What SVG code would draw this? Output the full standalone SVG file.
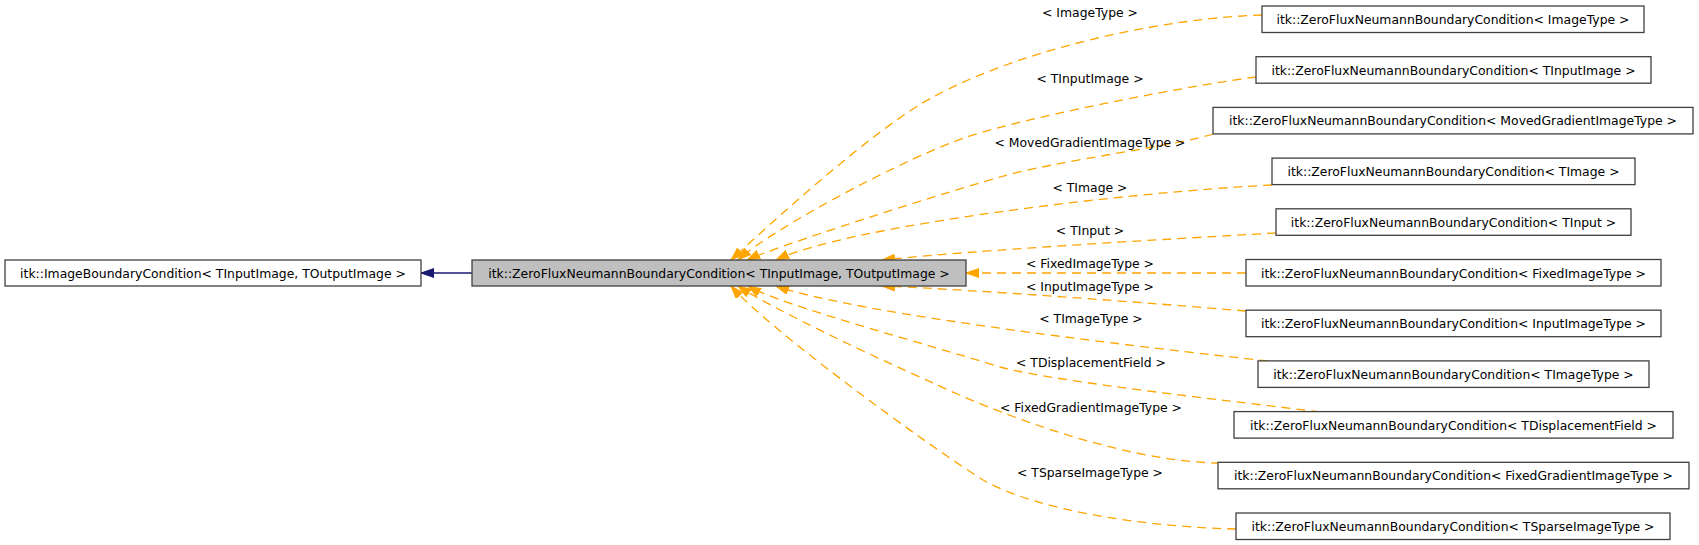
<svg xmlns="http://www.w3.org/2000/svg" width="1699" height="545" viewBox="0 0 1699 545">
<style>
.node rect{fill:#ffffff;stroke:#404040;stroke-width:1.3}
.node.main rect{fill:#bfbfbf}
text{font-family:"DejaVu Sans","Liberation Sans",sans-serif;font-size:12.4px;fill:#000000}
.nl{text-anchor:middle}
.el{text-anchor:middle}
.e{fill:none;stroke:#ffa500;stroke-width:1.3;stroke-dasharray:9,6;marker-end:url(#ao)}
.b{fill:none;stroke:#191970;stroke-width:1.3;marker-end:url(#an)}
</style>
<defs>
<marker id="ao" markerUnits="userSpaceOnUse" markerWidth="16" markerHeight="12" refX="13" refY="4.5" orient="auto" viewBox="0 0 16 12">
<path d="M0,0 L13,4.5 L0,9 Z" fill="#ffa500" stroke="#ffa500" stroke-width="1"/>
</marker>
<marker id="an" markerUnits="userSpaceOnUse" markerWidth="16" markerHeight="12" refX="13" refY="4.5" orient="auto" viewBox="0 0 16 12">
<path d="M0,0 L13,4.5 L0,9 Z" fill="#191970" stroke="#191970" stroke-width="1"/>
</marker>
</defs>
<rect width="1699" height="545" fill="#ffffff"/>
<g id="connectors">
<path class="b" d="M472,273 L421,273"/>
<path class="e" d="M1262,15 C1170,18 1030,45 933,97 C873,129 767,227 731,260"/>
<path class="e" d="M1256,77 C1200,84 1033,115 967,137 C907,157 773,228 738,260"/>
<path class="e" d="M1213,134 C1180,145 1050,162 1000,177 C930,197 775,247 747,260"/>
<path class="e" d="M1272,185 C1130,192 850,225 776,260"/>
<path class="e" d="M1276,233 C1150,240 980,250 882,260"/>
<path class="e" d="M1246,273 L966,273"/>
<path class="e" d="M1246,311 C1150,303 980,290 882,286"/>
<path class="e" d="M1268,361 C1150,348 860,315 776,286"/>
<path class="e" d="M1320,412 C1250,403 1055,382 1000,367 C930,345 780,305 748,286"/>
<path class="e" d="M1220,463 C1120,462 990,410 933,383 C870,355 775,310 738,286"/>
<path class="e" d="M1236,529 C1150,527 1040,512 983,480 C920,440 770,330 731,286"/>
<text class="el" x="1090" y="16.7">&lt; ImageType &gt;</text>
<text class="el" x="1090" y="82.7">&lt; TInputImage &gt;</text>
<text class="el" x="1090" y="146.5">&lt; MovedGradientImageType &gt;</text>
<text class="el" x="1090" y="191.7">&lt; TImage &gt;</text>
<text class="el" x="1090" y="235">&lt; TInput &gt;</text>
<text class="el" x="1090" y="268.3">&lt; FixedImageType &gt;</text>
<text class="el" x="1090" y="291">&lt; InputImageType &gt;</text>
<text class="el" x="1091" y="323.3">&lt; TImageType &gt;</text>
<text class="el" x="1091" y="367.3">&lt; TDisplacementField &gt;</text>
<text class="el" x="1091" y="412.3">&lt; FixedGradientImageType &gt;</text>
<text class="el" x="1090" y="476.7">&lt; TSparseImageType &gt;</text>
</g>
<g id="base" class="node"><rect x="5" y="260" width="416" height="26"/><text class="nl" x="213" y="277.5">itk::ImageBoundaryCondition&lt; TInputImage, TOutputImage &gt;</text></g>
<g id="main" class="node main"><rect x="472" y="260" width="494" height="26"/><text class="nl" x="719" y="277.5">itk::ZeroFluxNeumannBoundaryCondition&lt; TInputImage, TOutputImage &gt;</text></g>
<g id="n1" class="node"><rect x="1262" y="6" width="382" height="26.5"/><text class="nl" x="1453" y="24">itk::ZeroFluxNeumannBoundaryCondition&lt; ImageType &gt;</text></g>
<g id="n2" class="node"><rect x="1256" y="56.7" width="395" height="26.5"/><text class="nl" x="1453.5" y="74.7">itk::ZeroFluxNeumannBoundaryCondition&lt; TInputImage &gt;</text></g>
<g id="n3" class="node"><rect x="1213" y="107.4" width="480" height="26.5"/><text class="nl" x="1453" y="125.4">itk::ZeroFluxNeumannBoundaryCondition&lt; MovedGradientImageType &gt;</text></g>
<g id="n4" class="node"><rect x="1272" y="158.1" width="363" height="26.5"/><text class="nl" x="1453.5" y="176.1">itk::ZeroFluxNeumannBoundaryCondition&lt; TImage &gt;</text></g>
<g id="n5" class="node"><rect x="1276" y="208.8" width="355" height="26.5"/><text class="nl" x="1453.5" y="226.8">itk::ZeroFluxNeumannBoundaryCondition&lt; TInput &gt;</text></g>
<g id="n6" class="node"><rect x="1246" y="259.5" width="415" height="26.5"/><text class="nl" x="1453.5" y="277.5">itk::ZeroFluxNeumannBoundaryCondition&lt; FixedImageType &gt;</text></g>
<g id="n7" class="node"><rect x="1246" y="310.2" width="415" height="26.5"/><text class="nl" x="1453.5" y="328.2">itk::ZeroFluxNeumannBoundaryCondition&lt; InputImageType &gt;</text></g>
<g id="n8" class="node"><rect x="1258" y="360.9" width="391" height="26.5"/><text class="nl" x="1453.5" y="378.9">itk::ZeroFluxNeumannBoundaryCondition&lt; TImageType &gt;</text></g>
<g id="n9" class="node"><rect x="1234" y="411.6" width="439" height="26.5"/><text class="nl" x="1453.5" y="429.6">itk::ZeroFluxNeumannBoundaryCondition&lt; TDisplacementField &gt;</text></g>
<g id="n10" class="node"><rect x="1218" y="462.3" width="471" height="26.5"/><text class="nl" x="1453.5" y="480.3">itk::ZeroFluxNeumannBoundaryCondition&lt; FixedGradientImageType &gt;</text></g>
<g id="n11" class="node"><rect x="1236" y="513" width="434" height="26.5"/><text class="nl" x="1453" y="531">itk::ZeroFluxNeumannBoundaryCondition&lt; TSparseImageType &gt;</text></g>
</svg>
